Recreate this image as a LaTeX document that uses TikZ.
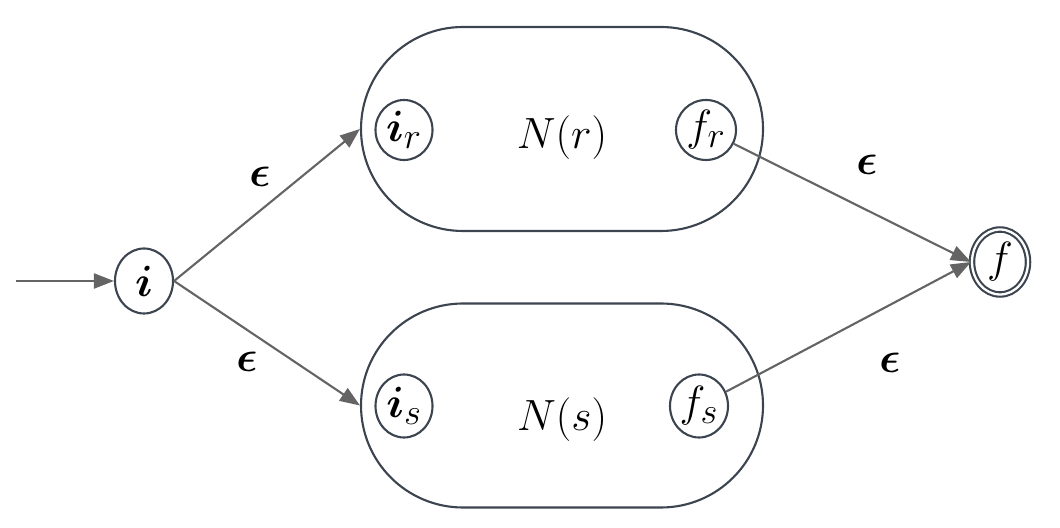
\documentclass[tikz,border=0pt]{standalone}
\usepackage{amsmath}
\usepackage{xcolor}
\usepackage{tikz}
\usetikzlibrary{positioning, arrows.meta, shapes.geometric}
\definecolor{slateline}{HTML}{3C4450}
\definecolor{edgegray}{HTML}{646464}

\begin{document}
\begin{tikzpicture}[font=\fontsize{25}{30}\selectfont,
    state/.style={ellipse, draw=slateline, line width=1.2pt, inner sep=0pt,
      font=\fontsize{29}{32}\selectfont},
    block/.style={draw=slateline, line width=1.2pt, rounded corners=2.04cm,
      minimum width=8.04cm, minimum height=4.08cm},
    trans/.style={-{Triangle[length=4mm, width=3mm]}, edgegray, line width=1.2pt},
    eps/.style={font=\fontsize{28}{32}\selectfont\boldmath}]
  \useasboundingbox (0,0) rectangle (21.2,10.54);

  % the two sub-automata
  \node[block] (Nr) at (11.24,7.96) {};
  \node[block] (Ns) at (11.24,2.43) {};
  \node (Nrlabel) at (11.24,7.78) {$N(r)$};
  \node (Nslabel) at (11.24,2.14) {$N(s)$};

  \node[state, minimum width=1.16cm, minimum height=1.3cm] (i) at (2.88,4.92) {$\boldsymbol{i}$};
  \node[state, minimum width=1.14cm, minimum height=1.2cm] (ir) at (8.08,7.94) {$\boldsymbol{i}_r$};
  \node[state, minimum width=1.2cm, minimum height=1.2cm] (fr) at (14.12,7.94) {$f_r$};
  \node[state, minimum width=1.14cm, minimum height=1.26cm] (is) at (8.08,2.42) {$\boldsymbol{i}_s$};
  \node[state, minimum width=1.16cm, minimum height=1.26cm] (fs) at (13.98,2.42) {$f_s$};
  \node[state, double, double distance=1.3pt, minimum width=1.12cm, minimum height=1.3cm] (f) at (20.0,5.3) {$f$};

  \coordinate (start) at (0.32,4.92);

  \draw[trans] (start) -- (i);
  \draw[trans] (i.east) -- (Nr.west);
  \draw[trans] (i.east) -- (Ns.west);
  \draw[trans] (fr) -- (f.west);
  \draw[trans] (fs) -- (f.west);

  \node[eps] (eps1) at (5.2,7.0) {$\epsilon$};
  \node[eps] (eps2) at (4.94,3.3) {$\epsilon$};
  \node[eps] (eps3) at (17.34,7.24) {$\epsilon$};
  \node[eps] (eps4) at (17.8,3.28) {$\epsilon$};
\end{tikzpicture}
\end{document}
